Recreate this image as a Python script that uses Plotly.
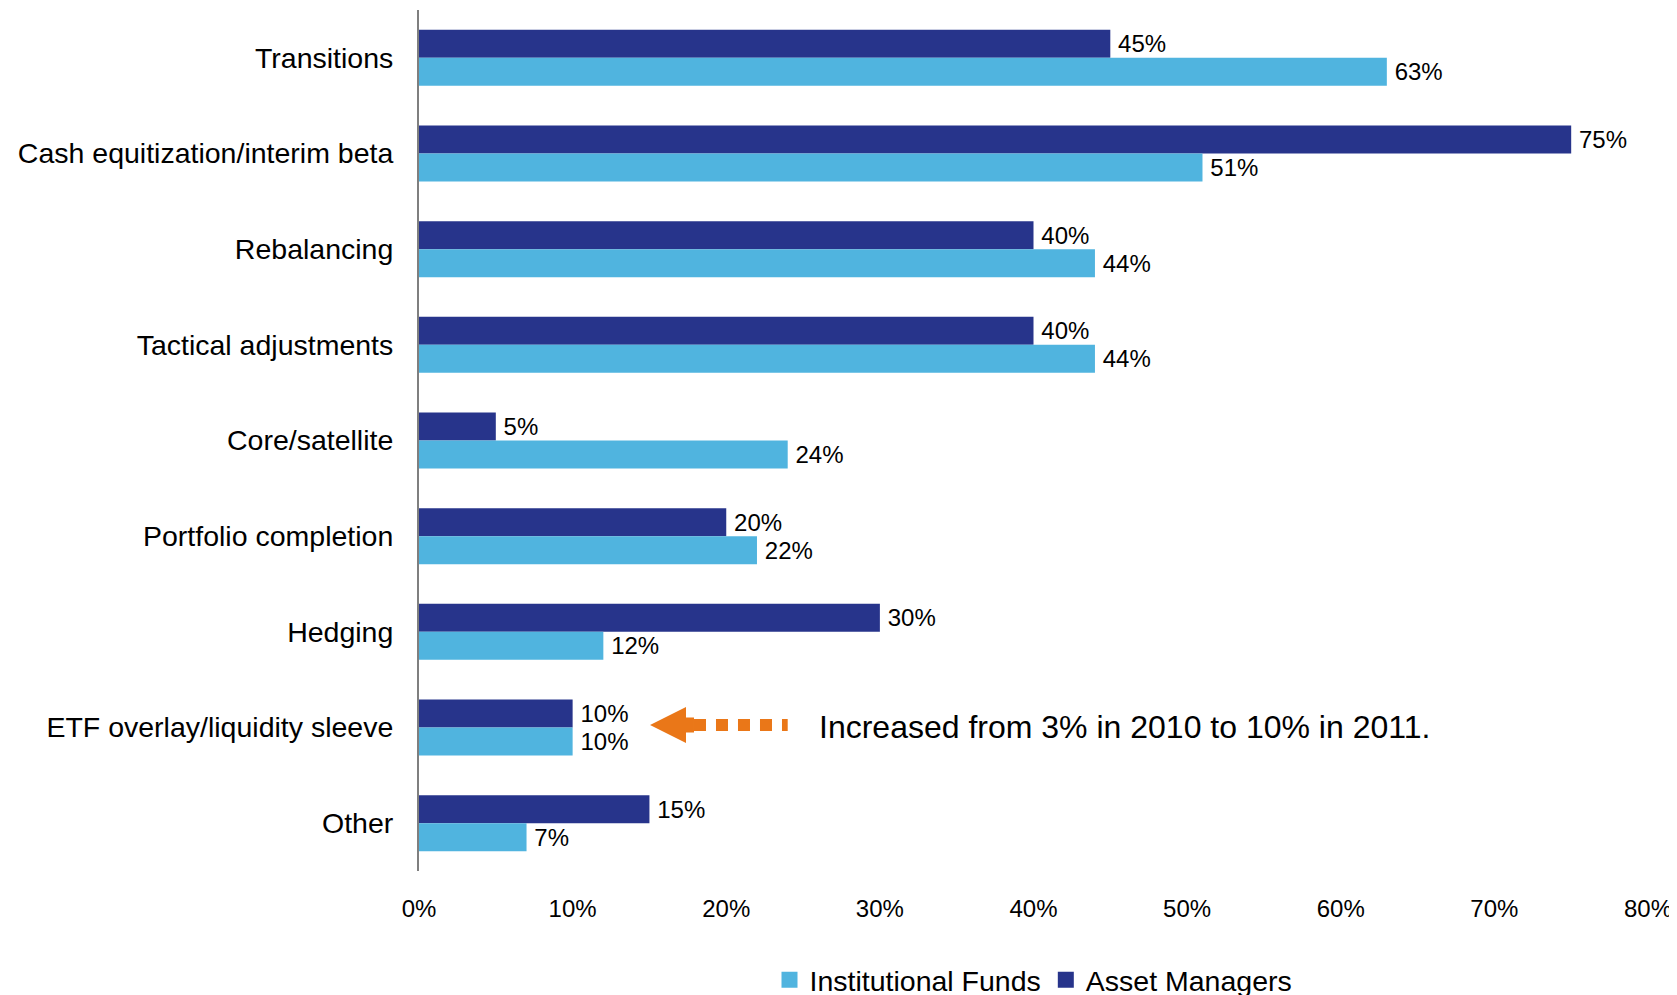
import plotly.graph_objects as go

categories = ["Transitions", "Cash equitization/interim beta", "Rebalancing",
              "Tactical adjustments", "Core/satellite", "Portfolio completion",
              "Hedging", "ETF overlay/liquidity sleeve", "Other"]
asset_managers = [45, 75, 40, 40, 5, 20, 30, 10, 15]
institutional_funds = [63, 51, 44, 44, 24, 22, 12, 10, 7]
x_tick_values = [0, 10, 20, 30, 40, 50, 60, 70, 80]
x_tick_labels = ["0%", "10%", "20%", "30%", "40%", "50%", "60%", "70%", "80%"]
note_text = "Increased from 3% in 2010 to 10% in 2011."
note_category = "ETF overlay/liquidity sleeve"

DARK = "#27348B"
LIGHT = "#50B4DF"
ORANGE = "#EA7718"
FONT = "Liberation Sans, Arial, Helvetica, sans-serif"
LABEL_PAD = "\u2009"

fig = go.Figure()
fig.add_trace(go.Bar(
    y=categories, x=asset_managers, orientation="h", name="Asset Managers",
    marker=dict(color=DARK, line=dict(width=0)),
    text=[f"{LABEL_PAD}{v}%" for v in asset_managers], texttemplate="%{text}",
    textposition="outside",
    textfont=dict(size=24, color="black", family=FONT),
    showlegend=False, cliponaxis=False, hoverinfo="x+y",
))
fig.add_trace(go.Bar(
    y=categories, x=institutional_funds, orientation="h", name="Institutional Funds",
    marker=dict(color=LIGHT, line=dict(width=0)),
    text=[f"{LABEL_PAD}{v}%" for v in institutional_funds], texttemplate="%{text}",
    textposition="outside",
    textfont=dict(size=24, color="black", family=FONT),
    showlegend=False, cliponaxis=False, hoverinfo="x+y",
))
# legend entries with larger square swatches
for nm, col in [("Institutional Funds", LIGHT), ("Asset Managers", DARK)]:
    fig.add_trace(go.Scatter(
        x=[None], y=[None], mode="markers", name=nm,
        marker=dict(symbol="square", size=19, color=col, line=dict(width=0)),
        showlegend=True,
    ))

# position of the note row in paper coordinates
idx = categories.index(note_category)
y_note = 1 - (idx + 0.5) / len(categories)
off = 2.5  # pixel offset of the arrow above the row centre

# dashed arrow shaft
fig.add_shape(type="line", xref="x", yref="paper", x0=17.9, x1=24.0,
              y0=off, y1=off, ysizemode="pixel", yanchor=y_note,
              line=dict(color=ORANGE, width=12, dash="12px,10px"))
# arrow head
fig.add_shape(type="path", xref="x", yref="paper", ysizemode="pixel", yanchor=y_note,
              path=(f"M 15.04,{off} L 17.38,{off + 18} L 17.38,{off + 7.5} "
                    f"L 17.9,{off + 7.5} L 17.9,{off - 7.5} L 17.38,{off - 7.5} "
                    f"L 17.38,{off - 18} Z"),
              fillcolor=ORANGE, line=dict(width=0))

fig.add_annotation(x=25.9, y=y_note, xref="x", yref="paper", xanchor="left",
                   yanchor="middle", yshift=1, text=note_text, showarrow=False,
                   font=dict(size=32, color="black", family=FONT))

fig.update_layout(
    width=1677, height=995,
    margin=dict(l=411, r=37, t=2, b=132, autoexpand=False),
    barmode="group", bargap=0.415, bargroupgap=0,
    plot_bgcolor="white", paper_bgcolor="white",
    font=dict(family=FONT, color="black"),
    showlegend=True,
    legend=dict(orientation="h", x=0.5, xanchor="center",
                yref="container", y=0.023, yanchor="middle",
                font=dict(size=28.5, family=FONT, color="black"),
                itemsizing="trace", traceorder="normal", itemclick=False,
                bgcolor="rgba(0,0,0,0)"),
    xaxis=dict(range=[0, 80], tickvals=x_tick_values, ticktext=x_tick_labels,
               showgrid=False, zeroline=False, showline=False, automargin=False,
               ticks="outside", ticklen=16, tickcolor="rgba(0,0,0,0)",
               tickfont=dict(size=24, family=FONT, color="black")),
    yaxis=dict(type="category", autorange="reversed", showgrid=False,
               showline=True, linecolor="#7F7F7F", linewidth=2, automargin=False,
               ticks="outside", ticklen=18, tickcolor="rgba(0,0,0,0)",
               tickfont=dict(size=28.5, family=FONT, color="black")),
)

fig.write_html("out.html")
